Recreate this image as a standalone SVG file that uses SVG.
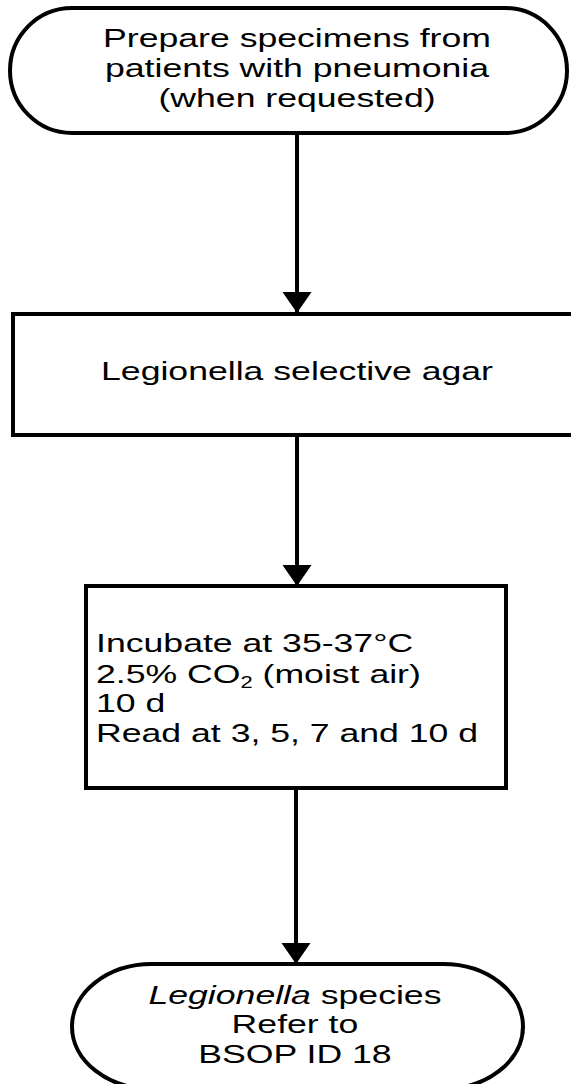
<svg xmlns="http://www.w3.org/2000/svg" width="571" height="1084" viewBox="0 0 571 1084">
  <style>
    .shape { fill: #ffffff; stroke: #000000; stroke-width: 4; }
    .conn { stroke: #000000; stroke-width: 4; fill: none; }
    .t { font-family: "Liberation Sans", Arial, sans-serif; font-size: 26px; fill: #000000; }
    .c { text-anchor: middle; }
  </style>
  <defs>
    <marker id="arrow" markerUnits="userSpaceOnUse" markerWidth="22" markerHeight="30" refX="21" refY="14.5" orient="auto">
      <path d="M0,0 L21,14.5 L0,29 Z" fill="#000000"/>
    </marker>
  </defs>

  <g id="connectors">
    <line class="conn" x1="297" y1="133" x2="297" y2="313" marker-end="url(#arrow)"/>
    <line class="conn" x1="297" y1="435" x2="297" y2="586" marker-end="url(#arrow)"/>
    <line class="conn" x1="296" y1="788" x2="296" y2="964" marker-end="url(#arrow)"/>
  </g>

  <g id="start">
    <rect class="shape" x="10" y="8" width="557" height="125" rx="62" ry="62.5"/>
    <g transform="scale(1.37 1)">
      <text class="t c" x="216.8" y="47">Prepare specimens from</text>
      <text class="t c" x="216.8" y="77">patients with pneumonia</text>
      <text class="t c" x="216.8" y="107">(when requested)</text>
    </g>
  </g>

  <g id="agar">
    <rect class="shape" x="13" y="314" width="575" height="121"/>
    <g transform="scale(1.37 1)">
      <text class="t c" x="216.8" y="380">Legionella selective agar</text>
    </g>
  </g>

  <g id="incubate">
    <rect class="shape" x="86" y="586" width="420" height="202"/>
    <g transform="scale(1.37 1)">
      <text class="t" x="70.1" y="652">Incubate at 35-37°C</text>
      <text class="t" x="70.1" y="683">2.5% CO<tspan font-size="16" dy="5">2</tspan><tspan dy="-5"> (moist air)</tspan></text>
      <text class="t" x="70.1" y="712">10 d</text>
      <text class="t" x="70.1" y="742">Read at 3, 5, 7 and 10 d</text>
    </g>
  </g>

  <g id="result">
    <rect class="shape" x="72" y="964" width="451" height="125" rx="80" ry="62.5"/>
    <g transform="scale(1.37 1)">
      <text class="t c" x="215.3" y="1004"><tspan font-style="italic">Legionella</tspan> species</text>
      <text class="t c" x="215.3" y="1033">Refer to</text>
      <text class="t c" x="215.3" y="1063">BSOP ID 18</text>
    </g>
  </g>
</svg>
